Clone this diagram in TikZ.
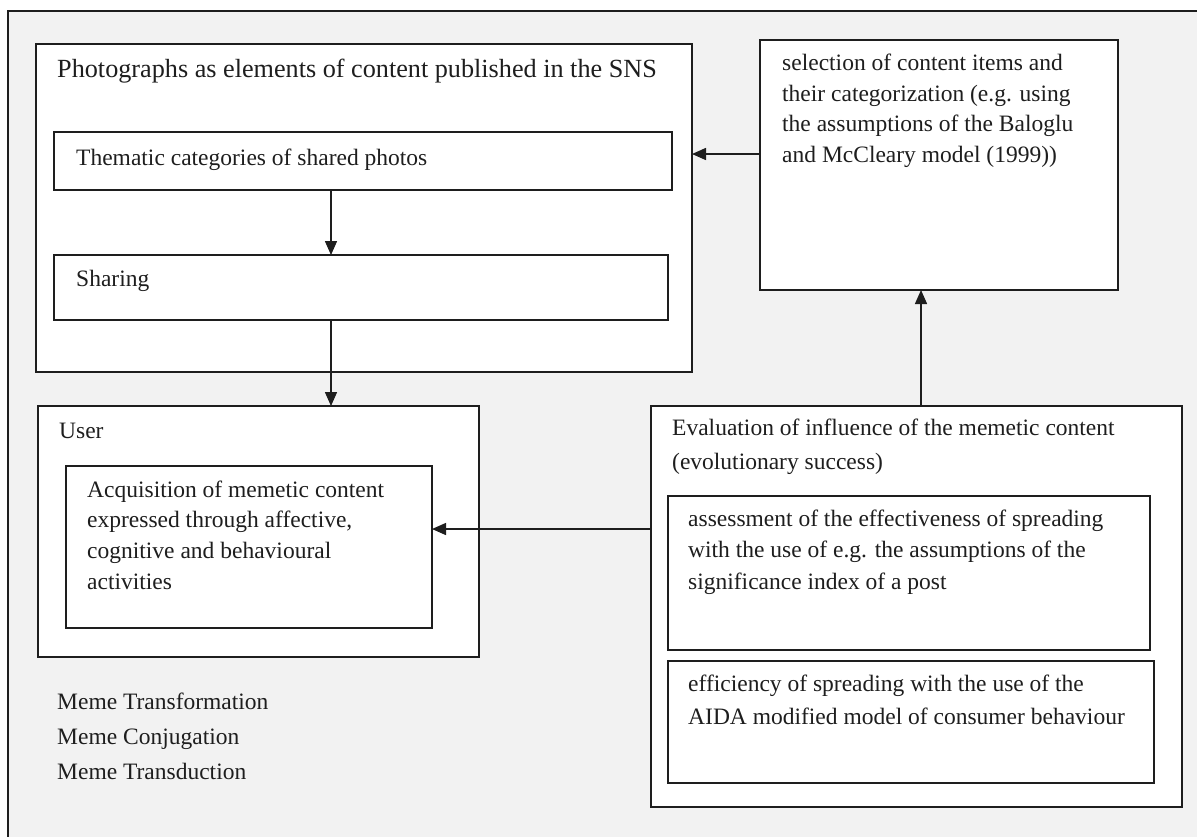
\documentclass[tikz,border=0pt]{standalone}
\usepackage{fontspec}
\setmainfont{Liberation Serif}
\usetikzlibrary{arrows.meta}
\definecolor{bg}{HTML}{F2F2F2}
\definecolor{ink}{HTML}{1E1E1E}
\begin{document}
\begin{tikzpicture}[x=1pt,y=-1pt,
  frame/.style={draw=ink, line width=1.5pt, fill=bg},
  box/.style={draw=ink, line width=1.5pt, fill=white, rectangle,
    inner sep=0pt, outer sep=0pt, anchor=north west},
  txt/.style={font=\fontsize{23.5}{30.5}\selectfont, text=ink,
    inner sep=0pt, anchor=base west},
  arr/.style={draw=ink, line width=1.5pt, -{Triangle[length=14pt,width=12pt]}}]
\useasboundingbox (0,0) rectangle (1197,836);
\clip (0,0) rectangle (1197,836);

% surrounding frame
\draw[frame] (8,11) rectangle (1230,870);

% content block
\node[box, minimum width=656pt, minimum height=328pt] (photo) at (36,44) {};
\node[box, minimum width=618pt, minimum height=58pt]  (them)  at (54,132) {};
\node[box, minimum width=614pt, minimum height=65pt]  (share) at (54,255) {};

% selection block
\node[box, minimum width=358pt, minimum height=250pt] (sel) at (760,40) {};

% user block
\node[box, minimum width=441pt, minimum height=251pt] (user) at (38,406) {};
\node[box, minimum width=366pt, minimum height=162pt] (acq)  at (66,466) {};

% evaluation block
\node[box, minimum width=531pt, minimum height=401pt] (eval)   at (651,406) {};
\node[box, minimum width=482pt, minimum height=154pt] (assess) at (668,496) {};
\node[box, minimum width=486pt, minimum height=122pt] (effic)  at (668,661) {};

% texts
\node[txt, font=\fontsize{26.2}{30.5}\selectfont] (phototxt) at (57,77)
  {Photographs as elements of content published in the SNS};
\node[txt] (themtxt) at (76,165) {Thematic categories of shared photos};
\node[txt] (sharetxt) at (76,286) {Sharing};
\node[txt] (seltxt) at (782,70.5) {\begin{tabular}[t]{@{}l@{}}selection of content items and\\
  their categorization (e.g. using\\ the assumptions of the Baloglu\\
  and McCleary model (1999))\end{tabular}};
\node[txt] (usertxt) at (59,438) {User};
\node[txt, font=\fontsize{23.5}{30.8}\selectfont] (acqtxt) at (87,497)
  {\begin{tabular}[t]{@{}l@{}}Acquisition of memetic content\\
  expressed through affective,\\ cognitive and behavioural\\ activities\end{tabular}};
\node[txt, font=\fontsize{23.5}{34}\selectfont] (evaltxt) at (672,435)
  {\begin{tabular}[t]{@{}l@{}}Evaluation of influence of the memetic content\\
  (evolutionary success)\end{tabular}};
\node[txt, font=\fontsize{23.5}{31.5}\selectfont] (asstxt) at (688,526)
  {\begin{tabular}[t]{@{}l@{}}assessment of the effectiveness of spreading\\
  with the use of e.g. the assumptions of the\\ significance index of a post\end{tabular}};
\node[txt, font=\fontsize{23.5}{33}\selectfont] (effictxt) at (688,691)
  {\begin{tabular}[t]{@{}l@{}}efficiency of spreading with the use of the\\
  AIDA modified model of consumer behaviour\end{tabular}};
\node[txt, font=\fontsize{23.5}{35}\selectfont] (memetxt) at (57,709)
  {\begin{tabular}[t]{@{}l@{}}Meme Transformation\\ Meme Conjugation\\
  Meme Transduction\end{tabular}};

% connector guides
\coordinate (vx) at (331,0);
\coordinate (ux) at (921,0);
\coordinate (hy) at (0,154);
\coordinate (ly) at (0,529);

% connectors
\draw[arr] (them.south -| vx) -- (share.north -| vx);
\draw[arr] (share.south -| vx) -- (user.north -| vx);
\draw[arr] (sel.west |- hy) -- (photo.east |- hy);
\draw[arr] (eval.north -| ux) -- (sel.south -| ux);
\draw[arr] (eval.west |- ly) -- (acq.east |- ly);
\end{tikzpicture}
\end{document}
